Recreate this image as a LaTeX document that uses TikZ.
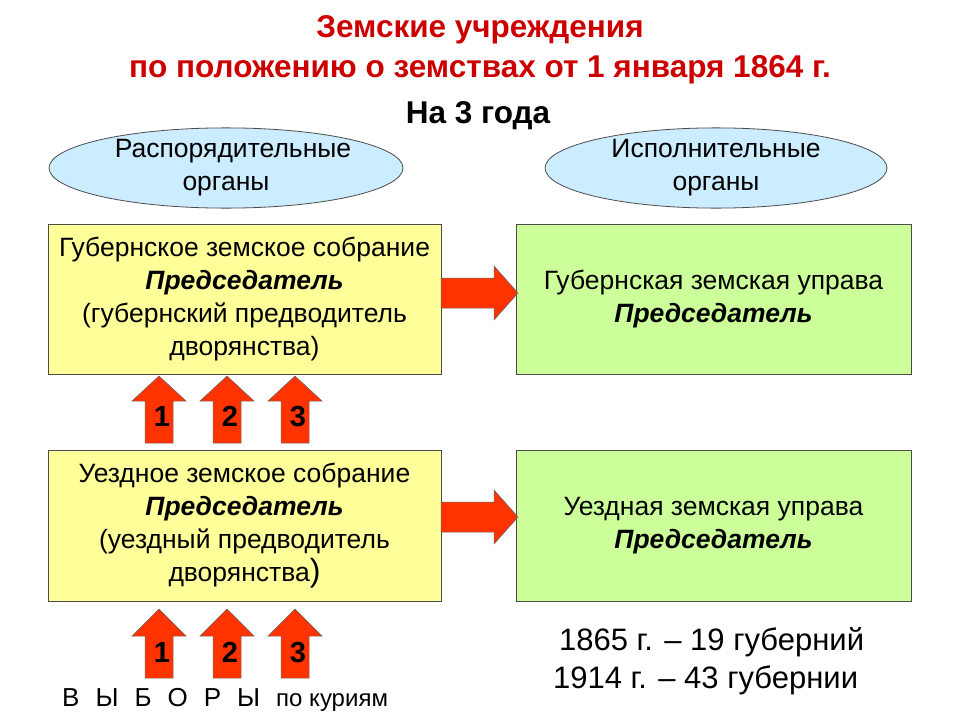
\documentclass[tikz,border=0pt]{standalone}
\usepackage{fontspec}
\setmainfont{Liberation Sans}
\usetikzlibrary{shapes.geometric}
\definecolor{yel}{HTML}{FFFF99}
\definecolor{grn}{HTML}{CCFF99}
\definecolor{redar}{HTML}{FF3300}
\definecolor{ttl}{HTML}{CC0000}
\definecolor{ell}{HTML}{CCECFF}
\begin{document}
\begin{tikzpicture}[x=1pt,y=-1pt,
 box/.style={draw=black!70,line width=0.8pt,align=center,inner sep=0pt,font=\fontsize{26.5}{33}\selectfont},
 oval/.style={ellipse,draw=black!70,line width=0.8pt,fill=ell,minimum width=342pt,minimum height=70pt,inner sep=0pt,align=center,font=\fontsize{26.5}{33}\selectfont},
 arr/.style={fill=redar,draw=black!60,line width=0.5pt},
 num/.style={font=\bfseries\fontsize{29}{29}\selectfont,anchor=base,inner sep=0pt}]
\useasboundingbox (0,0) rectangle (960,720);
\node[text=ttl,font=\bfseries\fontsize{31.5}{40}\selectfont,align=center] (title) at (480,50) {Земские учреждения\\по положению о земствах от 1 января 1864 г.};
\node[font=\bfseries\fontsize{31.5}{32}\selectfont] (years) at (478,116) {На 3 года};
\node[oval] (o1) at (226,168) {\hspace*{14pt}Распорядительные\\органы};
\node[oval] (o2) at (716,168) {Исполнительные\\органы};
\node[box,fill=yel,minimum width=393pt,minimum height=150pt] (b1) at (244.5,299) {Губернское земское собрание\\\textbf{\textit{Председатель}}\\(губернский предводитель\\дворянства)};
\node[box,fill=grn,minimum width=395pt,minimum height=150pt] (g1) at (713.5,299) {Губернская земская управа\\\textbf{\textit{Председатель}}};
\node[box,fill=yel,minimum width=393pt,minimum height=151pt] (b2) at (244.5,525.5) {Уездное земское собрание\\\textbf{\textit{Председатель}}\\(уездный предводитель\\дворянства{\fontsize{32}{33}\selectfont)}};
\node[box,fill=grn,minimum width=395pt,minimum height=151pt] (g2) at (713.5,525.5) {Уездная земская управа\\\textbf{\textit{Председатель}}};
% right arrows
\foreach \y in {293,517}{
 \draw[arr] (441,\y-15) -- (494,\y-15) -- (494,\y-27) -- (518,\y) -- (494,\y+27) -- (494,\y+15) -- (441,\y+15) -- cycle;}
% up arrows
\foreach \x/\n in {159/1,227/2,295/3}{
 \draw[arr] (\x-14,443) -- (\x-14,401) -- (\x-27,401) -- (\x,376) -- (\x+27,401) -- (\x+14,401) -- (\x+14,443) -- cycle;
 \node[num] (u\n) at (\x+3,426) {\n};
 \draw[arr] (\x-14,678) -- (\x-14,636) -- (\x-27,636) -- (\x,609) -- (\x+27,636) -- (\x+14,636) -- (\x+14,678) -- cycle;
 \node[num] (l\n) at (\x+3,662) {\n};}
\node[font=\fontsize{26}{26}\selectfont,anchor=west,inner sep=0pt] (vy) at (62,700) {В\hspace{16pt}Ы\hspace{16pt}Б\hspace{16pt}О\hspace{16pt}Р\hspace{16pt}Ы\hspace{16pt}{\fontsize{24}{24}\selectfont по куриям}};
\node[font=\fontsize{31}{38}\selectfont,align=left,anchor=north west,inner sep=0pt] (dates) at (553,627) {\hspace*{6pt}1865 г. – 19 губерний\\1914 г. – 43 губернии};
\end{tikzpicture}
\end{document}
